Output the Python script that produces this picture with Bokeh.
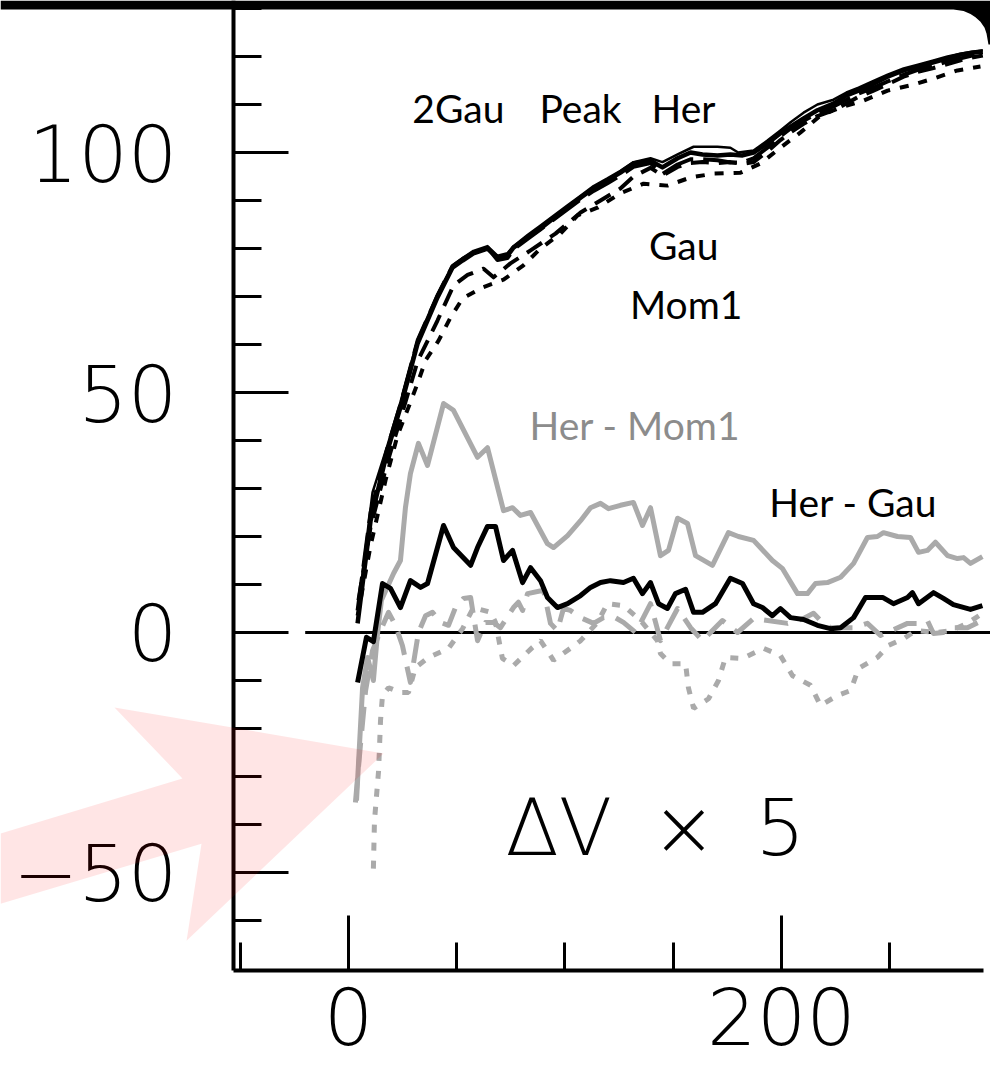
from bokeh.plotting import figure
from bokeh.models import FixedTicker, Range1d, Label, PolyAnnotation
from bokeh.embed import file_html
from bokeh.resources import INLINE

# ---------------- data (radius, velocity) ----------------
r_2gau = [4.2, 10.2, 18.0, 24.0, 31.9, 41.1, 48.0, 52.7, 57.7, 64.2, 68.8, 73.4, 76.2, 82.7, 88.7, 94.7,
          101.2, 107.2, 113.2, 119.6, 125.6, 131.6, 139.5, 145.0, 152.0, 158.0, 163.5, 170.4, 176.4, 182.0,
          187.1, 193.5, 199.5, 204.2, 210.2, 216.6, 224.0, 230.0, 235.6, 242.0, 249.0, 256.4, 263.0, 270.2,
          276.7, 282.7, 288.0, 293.0]
v_2gau = [1.9, 23.3, 37.9, 46.9, 60.2, 69.8, 76.0, 77.5, 79.0, 80.0, 78.1, 78.5, 80.2, 82.3, 84.2, 86.3,
          88.5, 90.6, 92.5, 94.2, 95.8, 97.7, 98.3, 96.9, 98.8, 100.0, 99.6, 99.4, 99.6, 99.4,
          100.0, 101.9, 104.0, 105.4, 107.1, 108.8, 110.2, 111.9, 112.9, 114.2, 115.8, 117.1, 117.9, 118.8,
          119.6, 120.4, 120.8, 121.0]

r_peak = [5.5, 11.1, 18.0, 24.0, 31.9, 41.1, 48.0, 52.7, 57.7, 64.2, 68.8, 73.4, 76.2, 82.7, 88.7, 94.7,
          101.2, 107.2, 113.2, 119.6, 125.6, 131.6, 139.5, 145.0, 152.0, 159.4, 165.0, 170.4, 176.4, 180.0,
          187.1, 193.5, 199.5, 204.2, 210.2, 216.6, 224.0, 230.0, 235.6, 242.0, 249.0, 256.4, 263.0, 270.2,
          276.7, 282.7, 288.0, 293.0]
v_peak = [8.8, 29.2, 39.0, 48.0, 61.0, 70.5, 76.5, 78.0, 79.5, 80.5, 78.5, 79.0, 80.5, 82.8, 84.8, 86.8,
          89.0, 91.0, 93.0, 94.6, 96.2, 98.0, 98.8, 98.0, 99.6, 101.2, 101.2, 101.2, 101.0, 100.0,
          100.4, 102.5, 104.6, 106.3, 108.3, 110.0, 111.0, 112.5, 113.5, 114.8, 116.2, 117.5, 118.3, 119.2,
          120.0, 120.6, 121.0, 121.3]

r_her = [4.2, 10.2, 18.0, 24.0, 31.9, 41.1, 48.0, 52.7, 57.7, 64.2, 68.8, 73.4, 76.2, 82.7, 88.7, 94.7,
         101.2, 107.2, 113.2, 119.6, 125.6, 131.6, 139.5, 145.0, 152.0, 158.0, 163.5, 170.4, 176.4, 182.0,
         187.1, 193.5, 199.5, 204.2, 210.2, 216.6, 224.0, 230.0, 235.6, 242.0, 249.0, 256.4, 263.0, 270.2,
         276.7, 282.7, 288.0, 293.0]
v_her = [4.6, 25.0, 38.5, 47.5, 60.8, 70.2, 76.3, 77.8, 79.2, 80.2, 77.6, 78.0, 79.8, 82.0, 84.0, 86.0,
         88.2, 90.2, 92.0, 93.6, 95.2, 97.0, 97.8, 95.5, 97.5, 98.6, 98.6, 98.4, 97.9, 97.9,
         98.8, 101.0, 103.4, 105.0, 106.6, 108.2, 109.6, 111.0, 112.3, 113.4, 114.8, 116.2, 117.2, 118.0,
         119.0, 119.6, 120.2, 120.6]

r_gau = [4.6, 10.2, 18.0, 24.0, 31.9, 41.1, 48.5, 55.0, 62.4, 67.0, 74.8, 84.1, 95.6, 107.2, 116.4, 125.6,
         131.6, 139.5, 145.0, 152.0, 158.0, 163.5, 170.4, 176.4, 182.0, 187.1, 193.5, 199.5, 204.2, 210.2,
         216.6, 224.0, 230.0, 235.6, 242.0, 249.0, 256.4, 263.0, 270.2, 276.7, 282.7, 288.0, 293.0]
v_gau = [6.7, 22.0, 35.5, 44.5, 56.5, 65.0, 72.3, 74.5, 75.8, 74.0, 76.9, 79.6, 83.1, 87.5, 90.0, 92.5,
         95.0, 96.8, 95.2, 97.0, 97.8, 98.0, 97.8, 98.0, 97.6, 98.0, 100.2, 102.6, 104.2, 106.0,
         107.6, 108.8, 110.2, 111.6, 112.8, 114.2, 115.8, 116.8, 117.6, 118.4, 119.2, 119.8, 120.2]

r_mom1 = [4.2, 10.2, 17.1, 22.6, 27.7, 31.9, 35.6, 41.6, 47.1, 52.7, 61.9, 71.6, 80.8, 88.7, 97.9, 105.8,
          115.0, 125.6, 136.3, 147.3, 158.0, 168.6, 181.1, 190.3, 199.5, 208.8, 218.0, 227.3, 237.9, 249.0,
          259.6, 270.2, 281.3, 291.9]
v_mom1 = [3.5, 18.1, 31.7, 41.0, 46.9, 51.9, 56.7, 60.8, 65.6, 69.6, 71.9, 73.5, 76.5, 80.0, 83.1, 86.9,
          88.5, 91.5, 93.5, 93.1, 94.8, 95.6, 95.8, 97.7, 101.0, 104.2, 107.7, 109.4, 110.8, 112.9,
          114.0, 115.4, 117.1, 117.9]

# differences x 5
r_her_gau = [4.2, 8.3, 11.5, 15.7, 19.4, 24.0, 28.6, 33.3, 36.5, 43.9, 48.5, 56.4, 59.6, 64.2, 67.9, 71.6,
             75.8, 80.4, 84.1, 88.7, 91.9, 96.5, 101.2, 107.2, 111.8, 116.4, 121.0, 127.0, 131.6, 135.8,
             139.5, 143.2, 147.3, 151.0, 155.7, 159.4, 163.5, 169.5, 176.4, 182.0, 187.1, 191.2, 195.8,
             199.5, 204.2, 210.2, 216.6, 222.6, 227.3, 233.3, 238.8, 246.7, 251.7, 258.2, 260.5, 263.3,
             270.2, 274.8, 279.4, 287.3, 292.8]
d_her_gau = [-10.4, -1.0, -1.9, 10.2, 9.2, 5.2, 10.8, 9.4, 10.2, 22.3, 17.7, 14.0, 17.7, 22.1, 22.1, 15.0,
             17.1, 10.4, 13.5, 10.8, 7.3, 5.2, 6.0, 7.7, 9.4, 10.4, 10.8, 10.4, 11.3, 8.1,
             10.4, 6.0, 5.0, 8.1, 9.0, 4.2, 4.2, 6.0, 11.3, 10.2, 6.0, 5.2, 3.5,
             5.0, 3.1, 2.7, 1.5, 0.8, 1.0, 3.1, 7.3, 7.3, 6.0, 7.3, 8.3, 6.0,
             8.3, 7.1, 5.8, 4.8, 5.6]

r_her_mom1 = [3.7, 6.5, 8.8, 11.5, 13.4, 15.2, 20.8, 24.0, 26.3, 28.6, 32.3, 36.5, 43.9, 48.5, 59.6, 64.2,
              71.6, 75.8, 79.4, 84.1, 91.9, 94.7, 101.2, 107.2, 111.8, 116.4, 120.1, 125.6, 131.6, 135.8,
              139.5, 144.1, 147.8, 152.0, 156.6, 160.3, 168.1, 175.5, 180.1, 187.1, 195.8, 200.5, 207.4,
              212.0, 215.7, 221.2, 227.3, 233.3, 239.7, 244.3, 247.1, 253.6, 259.6, 263.3, 267.4, 271.1,
              276.7, 281.3, 284.1, 287.3, 292.8]
d_her_mom1 = [-35.0, -11.5, -5.2, -10.0, -0.2, 6.7, 12.3, 15.0, 26.0, 33.1, 39.4, 34.8, 47.7, 46.3, 36.5, 38.5,
              25.4, 26.0, 24.4, 25.0, 18.5, 17.7, 20.2, 23.3, 26.0, 26.9, 25.8, 26.5, 27.1, 22.3,
              26.0, 16.0, 17.1, 23.8, 22.7, 16.0, 14.0, 20.8, 20.0, 19.2, 15.0, 13.3, 8.1,
              8.1, 10.2, 10.4, 11.5, 14.4, 19.8, 20.0, 20.8, 20.0, 19.8, 16.7, 17.1, 18.8,
              16.0, 15.4, 15.6, 14.4, 15.8]

r_her_2gau = [3.2, 5.5, 7.9, 11.1, 14.8, 18.5, 21.7, 24.9, 28.6, 32.3, 35.6, 38.8, 42.5, 46.2, 49.4, 53.1,
              56.4, 59.6, 63.3, 67.0, 70.2, 76.2, 78.5, 80.4, 82.7, 90.1, 93.3, 96.5, 99.3, 102.5,
              107.2, 113.2, 117.8, 122.4, 127.0, 132.6, 139.5, 144.1, 152.0, 158.0, 163.5, 172.7, 179.7,
              187.1, 202.8, 210.2, 214.8, 218.0, 222.6, 233.3, 239.7, 245.7, 258.2, 262.8, 267.4, 270.2,
              274.8, 279.4, 285.9, 292.8]
d_her_2gau = [-35.4, -23.5, -12.1, -3.8, 0.4, 4.2, 1.5, -2.7, -10.4, 0.0, 3.5, 4.2, 2.1, 1.5, 5.2, 7.1,
              7.3, -1.7, 2.1, 2.1, 1.0, 5.2, 6.3, 4.6, 8.1, 8.8, 1.9, 0.4, 5.0, 4.6,
              3.1, 1.9, 3.1, 3.3, 2.1, 0.0, 6.0, -1.7, 5.0, 1.0, -1.7, 2.5, 0.0,
              2.9, 1.9, 2.9, 4.0, 2.5, 1.0, 1.0, 1.9, -0.6, 1.9, 1.9, 2.5, -0.2,
              0.0, 1.0, 1.0, 2.5]

r_her_peak = [11.5, 12.0, 13.9, 14.8, 15.7, 18.5, 24.0, 27.7, 30.9, 37.0, 46.2, 52.7, 57.7, 65.6, 67.9, 71.1,
              76.2, 85.0, 88.7, 94.7, 102.5, 107.2, 115.0, 119.6, 127.0, 134.9, 142.7, 144.1, 148.7, 155.7,
              157.0, 159.4, 166.3, 170.9, 174.1, 182.0, 191.7, 199.5, 205.1, 213.4, 218.0, 225.9, 231.9,
              235.6, 244.3, 249.4, 256.4, 261.9, 272.1, 278.1, 285.9, 292.8]
d_her_peak = [-49.2, -39.2, -28.8, -18.3, -13.1, -11.5, -12.5, -12.5, -7.3, -5.2, -3.3, 0.8, 5.2, 4.2, 2.1, -5.4,
              -6.9, -3.1, -1.7, -5.8, -3.3, -1.7, 2.1, 6.0, 5.6, 2.5, -1.7, -4.4, -6.5, -6.5,
              -11.5, -15.8, -13.8, -10.0, -5.2, -5.4, -3.3, -4.8, -9.0, -11.0, -15.2, -13.1, -12.1,
              -7.5, -5.2, -2.7, -1.3, 0.4, 0.0, 0.4, 1.9, 4.0]

zero_x = [-20, 300]
zero_y = [0, 0]

x_major = [0, 200]
x_minor = [-50, 50, 100, 150, 250]
y_major = [-50, 0, 50, 100]
y_minor = [-60, -40, -30, -20, -10, 10, 20, 30, 40, 60, 70, 80, 90, 110, 120, 130]

# plot box (data units) inside the full canvas
X_LO, X_HI = -53.12, 293.3
Y_LO, Y_HI = -70.42, 131.67

# ---------------- figure ----------------
p = figure(width=990, height=1078, output_backend="svg", toolbar_location=None,
           x_range=Range1d(-160.74, 296.54), y_range=Range1d(-92.92, 131.67),
           min_border_left=0, min_border_right=0, min_border_top=0, min_border_bottom=0,
           x_axis_location="below", y_axis_location="left")
p.outline_line_color = None
p.grid.visible = False
p.background_fill_color = "white"
p.border_fill_color = "white"

p.xaxis.ticker = FixedTicker(ticks=x_major, minor_ticks=x_minor)
p.yaxis.ticker = FixedTicker(ticks=y_major, minor_ticks=y_minor)
p.yaxis.major_label_overrides = {-50: "\u221250"}
p.xaxis.fixed_location = Y_LO
p.yaxis.fixed_location = X_LO
p.xaxis.bounds = (X_LO, X_HI)
p.yaxis.bounds = (Y_LO, Y_HI)

for ax in (p.xaxis[0], p.yaxis[0]):
    ax.axis_line_width = 4
    ax.axis_line_color = "black"
    ax.major_tick_line_width = 3
    ax.minor_tick_line_width = 3
    ax.major_tick_line_color = "black"
    ax.minor_tick_line_color = "black"
    ax.major_tick_in = 55
    ax.major_tick_out = 0
    ax.minor_tick_in = 28
    ax.minor_tick_out = 0
    ax.major_label_text_font = "DejaVu Sans Light"
    ax.major_label_text_font_size = "78px"
    ax.major_label_text_color = "black"
p.yaxis.major_label_standoff = 56
p.xaxis.major_label_standoff = 16

GREY = "#aaaaaa"

# zero line
p.line(zero_x, zero_y, line_color="black", line_width=3)

# differences (x5)
p.line(r_her_peak, d_her_peak, line_color=GREY, line_width=5, line_dash="8 10")
p.line(r_her_2gau, d_her_2gau, line_color=GREY, line_width=5, line_dash="24 12", line_join="round")
p.line(r_her_mom1, d_her_mom1, line_color=GREY, line_width=5, line_join="round")
p.line(r_her_gau, d_her_gau, line_color="black", line_width=5, line_join="round")

# rotation curves
p.line(r_mom1, v_mom1, line_color="black", line_width=4, line_dash="9 10")
p.line(r_gau, v_gau, line_color="black", line_width=4, line_dash="18 10", line_join="round")
p.line(r_her, v_her, line_color="black", line_width=4, line_dash="34 10", line_join="round")
p.line(r_peak, v_peak, line_color="black", line_width=2.5, line_join="round")
p.line(r_2gau, v_2gau, line_color="black", line_width=4.5, line_join="round")

# text labels (x = left edge, y = vertical middle of the text)
GILL = "Lato"
labels = [
    ("2Gau", 29.5, 109.2, "black"),
    ("Peak", 88.2, 109.2, "black"),
    ("Her", 140.0, 109.2, "black"),
    ("Gau", 138.8, 80.8, "black"),
    ("Mom1", 130.0, 68.5, "black"),
    ("Her - Mom1", 83.6, 43.2, "#8c8c8c"),
    ("Her - Gau", 194.4, 27.2, "black"),
]
for txt, lx, ly, col in labels:
    p.add_layout(Label(x=lx, y=ly, text=txt, text_font=GILL, text_font_size="39px",
                       text_color=col, text_align="left", text_baseline="middle"))

p.add_layout(Label(x=72.5, y=-40.8, text="\u0394V\u2002\u00d7\u20025", text_font="DejaVu Sans Light",
                   text_font_size="78px", text_color="black", text_align="left",
                   text_baseline="middle"))

# pink arrow overlay
arrow_x = [-160.7, -76.7, -108.1, 16.2, -74.8, -67.9, -160.7]
arrow_y = [-41.9, -30.4, -15.6, -25.2, -64.2, -44.0, -56.5]
p.add_layout(PolyAnnotation(xs=arrow_x, ys=arrow_y, fill_color="red", fill_alpha=0.1,
                            line_color=None, level="overlay"))

# black top band with rounded corner (screenshot frame)
band_x = [-160.74, 296.54, 296.54, 295.6, 294.7, 293.8, 291.9, 289.6, 287.3, 284.1, 279.4, -160.74]
band_y = [131.67, 131.67, 122.5, 122.5, 124.8, 125.98, 127.23, 128.17, 128.85, 129.48, 129.79, 129.79]
p.add_layout(PolyAnnotation(xs=band_x, ys=band_y, fill_color="black", fill_alpha=1,
                            line_color=None, level="overlay"))

open("out.html", "w").write(file_html(p, INLINE))
